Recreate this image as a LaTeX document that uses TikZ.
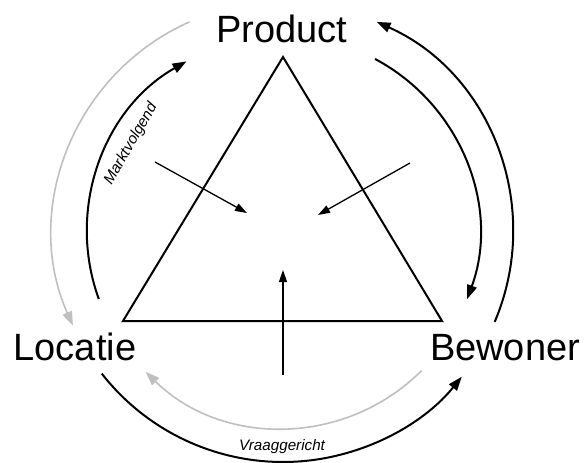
\documentclass[tikz,border=0pt]{standalone}
\usepackage{fontspec}
\setmainfont{Liberation Sans}
\usetikzlibrary{arrows.meta,calc}
\definecolor{arcgray}{gray}{0.75}

\begin{document}
\begin{tikzpicture}[
  x=0.5pt, y=0.5pt,
  corner/.style={font=\fontsize{19}{22}\selectfont, anchor=base, inner sep=0pt},
  tag/.style={font=\fontsize{7.6}{9}\selectfont\itshape, inner sep=0pt},
  flow/.style={line width=1pt, -{Triangle[length=7pt, width=5pt]}},
  faint/.style={flow, draw=arcgray, line width=0.8pt},
  push/.style={line width=0.65pt, -{Triangle[length=6pt, width=4pt]}}]
\useasboundingbox (0,0) rectangle (585,462);
\coordinate (c) at (283,230);
% triangle
\coordinate (top) at (283,405);
\coordinate (left) at (123,141);
\coordinate (right) at (442,141);
\draw[line width=1pt] (top) -- (left) -- (right) -- cycle;
% corners
\node[corner] (prod) at (282,420) {Product};
\node[corner] (loc) at (75,102) {Locatie};
\node[corner] (bew) at (505,102) {Bewoner};
% outer ring
\draw[flow] ([shift={(-23:230)}]c) arc[start angle=-23, end angle=66, radius=115pt];
\draw[faint] ([shift={(114:230)}]c) arc[start angle=114, end angle=204, radius=115pt];
\draw[flow] ([shift={(218:230)}]c) arc[start angle=218, end angle=321, radius=115pt];
% inner ring
\draw[flow] ([shift={(62:196)}]c) arc[start angle=62, end angle=-20, radius=98pt];
\draw[flow] ([shift={(200:196)}]c) arc[start angle=200, end angle=119.5, radius=98pt];
\draw[faint] ([shift={(-45:196)}]c) arc[start angle=-45, end angle=-134.5, radius=98pt];
% labels
\node[tag, rotate=60] (mv) at (131,318) {Marktvolgend};
\node[tag] (vg) at (282,15) {Vraaggericht};
% pushes into the triangle
\coordinate (p1) at (155,300);
\coordinate (q1) at (247,249);
\coordinate (p2) at (410,299);
\coordinate (q2) at (318,247);
\coordinate (p3) at (283,87);
\coordinate (q3) at (283,192);
\draw[push] (p1) -- (q1);
\draw[push] (p2) -- (q2);
\draw[push] (p3) -- (q3);
\end{tikzpicture}
\end{document}
